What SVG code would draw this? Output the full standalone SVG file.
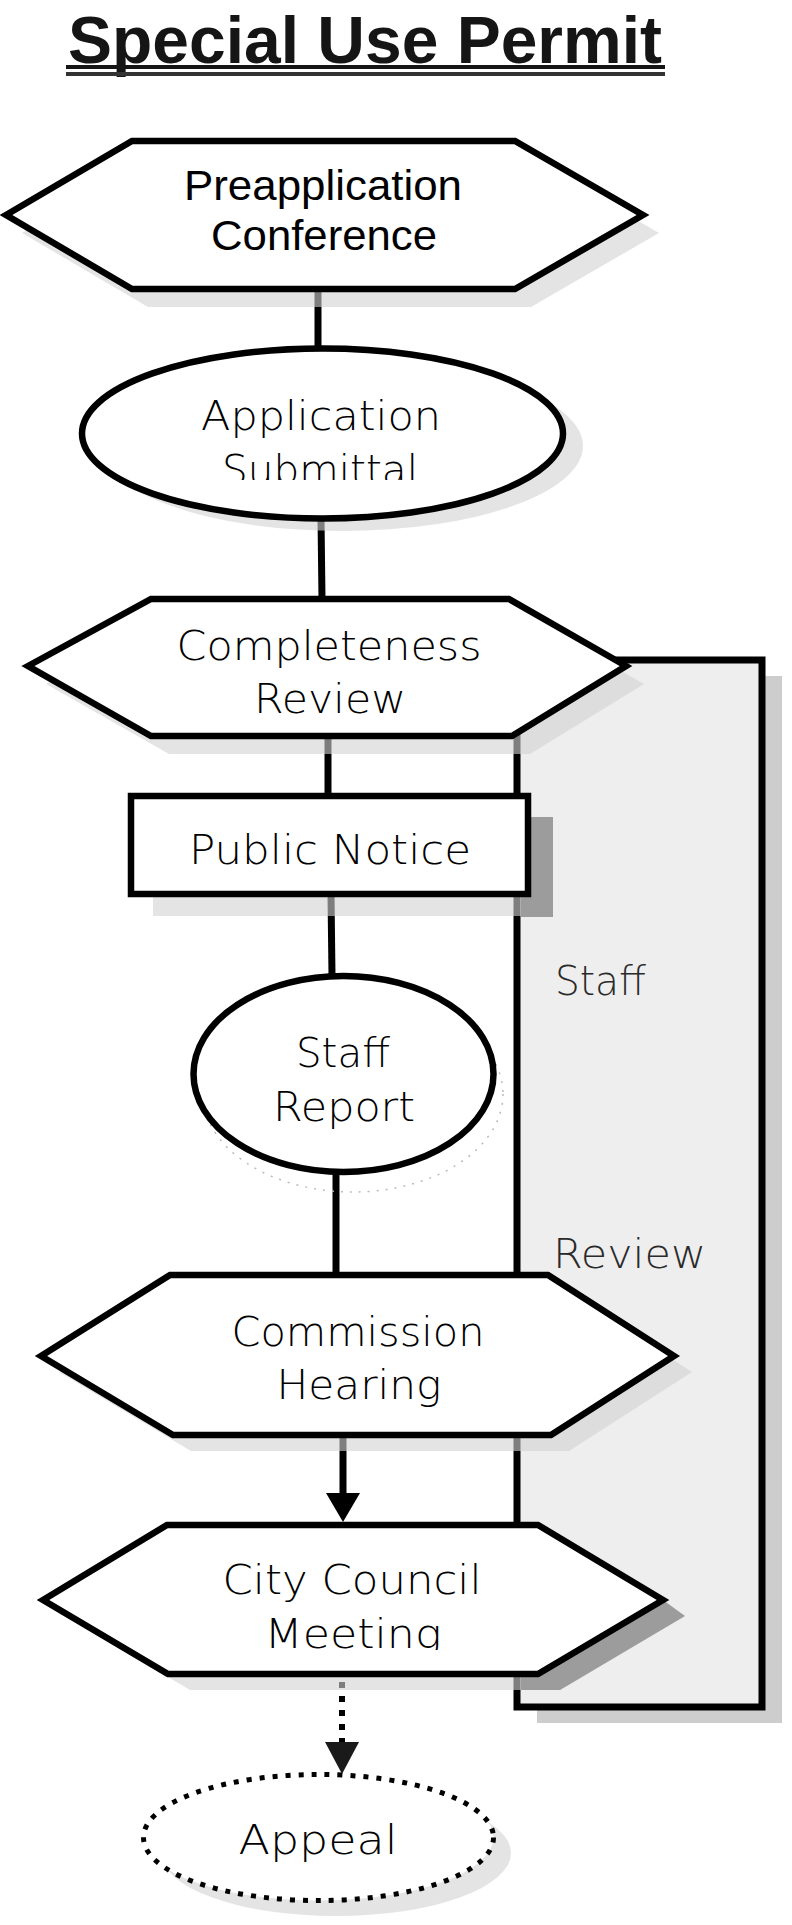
<svg xmlns="http://www.w3.org/2000/svg" width="792" height="1925" viewBox="0 0 792 1925">
<defs>
<style>
.ln{stroke:#000;stroke-width:7;fill:none}
.dash{stroke:#000;stroke-width:6;fill:none;stroke-dasharray:6 8}
.shape{fill:#fff;stroke:#000;stroke-width:6.5;stroke-linejoin:miter}
.shd{fill:#d2d2d2;opacity:.6}
.dark{fill:#9c9c9c}
.t{font-family:"DejaVu Sans","Liberation Sans",sans-serif;font-weight:200;font-size:41px;fill:#000;text-anchor:middle}
.lbl{font-family:"DejaVu Sans","Liberation Sans",sans-serif;font-weight:200;font-size:41px;fill:#2a2a2a}
.ta{font-family:"Liberation Sans",Arial,sans-serif;font-size:42px;fill:#000;text-anchor:middle}
.title{font-family:"Liberation Sans",Arial,sans-serif;font-weight:bold;font-size:67px;fill:#151515;text-anchor:middle}
</style>
<clipPath id="clipSub"><rect x="0" y="380" width="792" height="100"/></clipPath>
<clipPath id="clipMeet"><rect x="0" y="1590" width="792" height="60"/></clipPath>
</defs>
<rect x="0" y="0" width="792" height="1925" fill="#fff"/>

<g id="title">
<text class="title" x="365" y="63" textLength="594" lengthAdjust="spacingAndGlyphs">Special Use Permit</text>
<rect x="66" y="65" width="599" height="4" fill="#151515"/>
<rect x="66" y="72" width="599" height="4" fill="#333"/>
</g>

<g id="staff-review">
<rect x="537" y="676" width="245" height="1047" fill="#cdcdcd"/>
<rect x="517" y="660" width="245" height="1047" fill="#eeeeee" stroke="#000" stroke-width="7"/>
<text class="lbl" x="555" y="995" textLength="91" lengthAdjust="spacingAndGlyphs">Staff</text>
<text class="lbl" x="553" y="1268" textLength="153" lengthAdjust="spacingAndGlyphs">Review</text>
</g>

<g id="connectors">
<line class="ln" x1="318" y1="289" x2="318" y2="349"/>
<line class="ln" x1="321" y1="518" x2="322" y2="599"/>
<line class="ln" x1="328" y1="736" x2="328" y2="796"/>
<line class="ln" x1="331" y1="894" x2="332" y2="976"/>
<line class="ln" x1="336" y1="1172" x2="336" y2="1275"/>
<line class="ln" x1="343" y1="1435" x2="343" y2="1496"/>
<polygon points="326,1493 360,1493 343,1522" fill="#000"/>
<line class="dash" x1="342" y1="1682" x2="342" y2="1742"/>
<polygon points="325,1742 359,1742 342,1774" fill="#1a1a1a"/>
</g>

<g id="shadows">
<polygon class="shd" points="22,233 148,159 531,159 659,233 531,307 148,307"/>
<ellipse class="shd" cx="342" cy="446" rx="241" ry="85"/>
<polygon class="shd" points="46,684 169,617 527,617 644,684 530,754 169,754"/>
<rect class="shd" x="153" y="818" width="397" height="98"/>
<ellipse cx="353" cy="1094" rx="150" ry="98" fill="none" stroke="#bbb" stroke-width="1.5" stroke-dasharray="2 7"/>
<polygon class="shd" points="59,1372 188,1291 566,1291 692,1372 569,1451 191,1451"/>
<polygon class="shd" points="65,1616 189,1541 560,1541 685,1616 560,1690 190,1690"/>
<ellipse class="shd" cx="336" cy="1853" rx="175" ry="63"/>
<rect class="dark" x="521" y="817" width="32" height="100"/>
<polygon class="dark" points="663,1600 685,1616 560,1690 521,1690 521,1674 538,1674"/>
</g>

<g id="preapplication-conference">
<polygon class="shape" points="6,215 132,141 515,141 643,215 515,289 132,289"/>
<text class="ta" x="323" y="200" textLength="278" lengthAdjust="spacingAndGlyphs">Preapplication</text>
<text class="ta" x="324" y="250" textLength="226" lengthAdjust="spacingAndGlyphs">Conference</text>
</g>

<g id="application-submittal">
<ellipse class="shape" cx="322.5" cy="433.5" rx="240.5" ry="85"/>
<text class="t" x="321" y="430" textLength="240" lengthAdjust="spacingAndGlyphs">Application</text>
<text class="t" x="320" y="484" textLength="196" lengthAdjust="spacingAndGlyphs" clip-path="url(#clipSub)">Submittal</text>
</g>

<g id="completeness-review">
<polygon class="shape" points="28,666 151,599 509,599 626,666 512,736 151,736"/>
<text class="t" x="329" y="660" textLength="305" lengthAdjust="spacingAndGlyphs">Completeness</text>
<text class="t" x="330" y="713" textLength="152" lengthAdjust="spacingAndGlyphs">Review</text>
</g>

<g id="public-notice">
<rect class="shape" x="131" y="796" width="397" height="98"/>
<text class="t" x="330" y="864" textLength="282" lengthAdjust="spacingAndGlyphs">Public Notice</text>
</g>

<g id="staff-report">
<ellipse class="shape" cx="343.5" cy="1074" rx="150" ry="98"/>
<text class="t" x="343" y="1067" textLength="94" lengthAdjust="spacingAndGlyphs">Staff</text>
<text class="t" x="344" y="1121" textLength="142" lengthAdjust="spacingAndGlyphs">Report</text>
</g>

<g id="commission-hearing">
<polygon class="shape" points="41,1356 170,1275 548,1275 674,1356 551,1435 173,1435"/>
<text class="t" x="358" y="1346" textLength="253" lengthAdjust="spacingAndGlyphs">Commission</text>
<text class="t" x="359" y="1399" textLength="165" lengthAdjust="spacingAndGlyphs">Hearing</text>
</g>

<g id="city-council-meeting">
<polygon class="shape" points="43,1600 167,1525 538,1525 663,1600 538,1674 168,1674"/>
<text class="t" x="352" y="1594" textLength="259" lengthAdjust="spacingAndGlyphs">City Council</text>
<text class="t" x="353" y="1648" textLength="177" lengthAdjust="spacingAndGlyphs" clip-path="url(#clipMeet)">Meeting</text>
</g>

<g id="appeal">
<ellipse cx="318.5" cy="1837.5" rx="175" ry="63" fill="#fff" stroke="#000" stroke-width="5" stroke-dasharray="5 8"/>
<text class="t" x="318" y="1854" textLength="159" lengthAdjust="spacingAndGlyphs">Appeal</text>
</g>
</svg>
